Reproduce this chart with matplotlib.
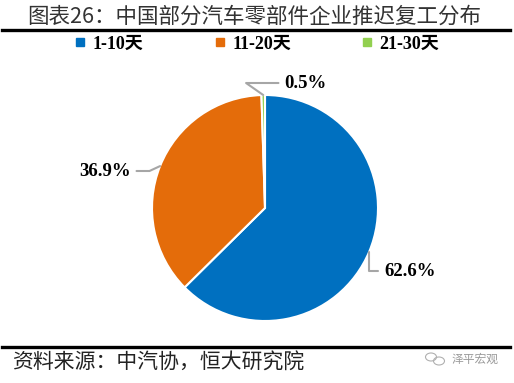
import numpy as np
import matplotlib
matplotlib.use("Agg")
import matplotlib.pyplot as plt
from matplotlib.lines import Line2D
from matplotlib.patches import Ellipse

# data
categories = ["1-10天", "11-20天", "21-30天"]
shares = [62.6, 36.9, 0.5]
colors = ["#0070C0", "#E46C0A", "#92D050"]
title = "图表26：中国部分汽车零部件企业推迟复工分布"
source = "资料来源：中汽协，恒大研究院"

cjk = ["Noto Sans CJK SC", "DejaVu Sans"]
num_font = ["Liberation Serif", "Noto Sans CJK SC"]

W, H = 514, 383
fig = plt.figure(figsize=(W / 100, H / 100), dpi=100)

# title and rules
fig.text(27 / W, 1 - 17 / H, title, fontsize=15.5, family=cjk, color="#333333",
         ha="left", va="center")
fig.add_artist(Line2D([2 / W, 510 / W], [1 - 30 / H, 1 - 30 / H], color="black", lw=2.4))
fig.add_artist(Line2D([2 / W, 510 / W], [1 - 347 / H, 1 - 347 / H], color="black", lw=2.4))

# pie
cx, cy, r = 265, 208, 113
ax = fig.add_axes([(cx - r) / W, (H - cy - r) / H, 2 * r / W, 2 * r / H])
wedges, _ = ax.pie(shares, colors=colors, startangle=90, counterclock=False,
                   wedgeprops=dict(edgecolor="white", linewidth=1.5))
ax.set_xlim(-1, 1)
ax.set_ylim(-1, 1)
ax.set_aspect("auto")
ax.axis("off")

# labels with leader lines
def px(x, y):
    return ((x - cx) / r, (cy - y) / r)

label_pos = [px(384, 271), px(131, 171), px(284, 83)]
label_ha = ["left", "right", "left"]
conn = ["angle,angleA=0,angleB=90,rad=0",
        "angle,angleA=0,angleB=25,rad=0",
        "angle,angleA=0,angleB=-35,rad=0"]
for w, v, pos, ha, cs in zip(wedges, shares, label_pos, label_ha, conn):
    mid = np.deg2rad((w.theta1 + w.theta2) / 2)
    edge = (np.cos(mid) * 1.0, np.sin(mid) * 1.0)
    ax.annotate(f"{v:.1f}%", xy=edge, xytext=pos, ha=ha, va="center",
                fontsize=13.5, fontweight="bold", family=num_font,
                annotation_clip=False,
                arrowprops=dict(arrowstyle="-", color="#A6A6A6", lw=1.5,
                                connectionstyle=cs, shrinkA=2, shrinkB=0))

# legend
handles = [Line2D([], [], marker="s", linestyle="", markersize=6,
                  markerfacecolor=c, markeredgecolor=c) for c in colors]
fig.legend(handles, categories, loc="center", bbox_to_anchor=(0.5, 1 - 44 / H),
           ncol=3, frameon=False, columnspacing=3.9, handlelength=0.6,
           handletextpad=0.4,
           prop=dict(family=num_font, weight="bold", size=13))

# footer
fig.text(12 / W, 1 - 363 / H, source, fontsize=15, family=cjk, color="#222222",
         ha="left", va="center")
fig.text(452 / W, 1 - 359 / H, "泽平宏观", fontsize=8.5, family=cjk, color="#9a9a9a",
         ha="left", va="center")
fig.add_artist(Ellipse((431 / W, 1 - 357 / H), 11 / W, 8 / H, fill=False,
                       edgecolor="#b0b0b0", lw=0.8))
fig.add_artist(Ellipse((439 / W, 1 - 361 / H), 11 / W, 8 / H, fill=False,
                       edgecolor="#b0b0b0", lw=0.8))

fig.savefig("out.png", dpi=100)
